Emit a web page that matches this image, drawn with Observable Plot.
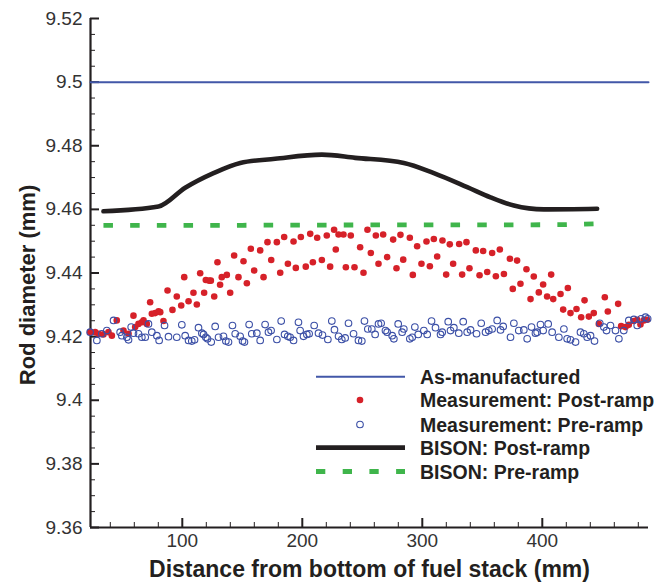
<!DOCTYPE html>
<html><head><meta charset="utf-8">
<script src="https://cdn.jsdelivr.net/npm/d3@7"></script>
<script src="https://cdn.jsdelivr.net/npm/@observablehq/plot@0.6"></script>
<style>
body{margin:0;background:#fff;font-family:"Liberation Sans",Arial,sans-serif;}
#wrap{position:relative;width:660px;height:582px;}
#legend{position:absolute;left:0;top:0;pointer-events:none;}
</style></head><body><div id="wrap"></div>
<script>
// ---- data ----
const xDomain = [23.5, 488.5];
const yDomain = [9.36, 9.52];
const xMajorTicks = [100, 200, 300, 400];
const xMinorTicks = [40, 60, 80, 120, 140, 160, 180, 220, 240, 260, 280, 320, 340, 360, 380, 420, 440, 460, 480];
const yMajorTicks = [9.36, 9.38, 9.40, 9.42, 9.44, 9.46, 9.48, 9.50, 9.52];
const yMinorTicks = [9.365, 9.37, 9.375, 9.385, 9.39, 9.395, 9.405, 9.41, 9.415, 9.425, 9.43, 9.435,
  9.445, 9.45, 9.455, 9.465, 9.47, 9.475, 9.485, 9.49, 9.495, 9.505, 9.51, 9.515];

const asManufactured = [[23.5, 9.5], [488.5, 9.5]];

const bisonPost = [
  [34.3, 9.4594], [80.2, 9.4609], [102.4, 9.4668], [126.0, 9.4714], [148.3, 9.4746],
  [177.4, 9.4759], [216.3, 9.4772], [244.1, 9.4762], [284.6, 9.4746], [309.6, 9.4714],
  [337.4, 9.4670], [356.8, 9.4638], [376.3, 9.4612], [401.3, 9.4600], [445.7, 9.4602]
];
const bisonPre = [
  [34.3, 9.4550], [150, 9.4550], [250, 9.4551], [350, 9.4551], [420, 9.4552], [445.5, 9.4555]
];

const postRamp = [
  [23.2,9.4214],[27.4,9.4214],[30.2,9.4209],[34.3,9.4207],[38.5,9.4214],[41.3,9.4203],[45.4,9.4251],
  [51.0,9.4219],[55.2,9.4209],[59.3,9.4266],[60.7,9.4230],[63.5,9.4240],[66.3,9.4245],[67.7,9.4251],
  [70.4,9.4240],[73.2,9.4308],[74.6,9.4272],[77.4,9.4274],[80.2,9.4280],[81.6,9.4277],[84.3,9.4249],
  [87.7,9.4345],[91.8,9.4284],[95.4,9.4326],[99.1,9.4298],[101.6,9.4387],[105.2,9.4311],[109.3,9.4338],
  [112.1,9.4301],[114.9,9.4399],[118.2,9.4338],[119.6,9.4378],[122.4,9.4376],[123.8,9.4376],[126.6,9.4326],
  [129.3,9.4434],[131.5,9.4363],[132.9,9.4387],[137.1,9.4394],[139.9,9.4338],[143.2,9.4455],[146.8,9.4387],
  [151.0,9.4437],[153.8,9.4368],[157.1,9.4476],[159.9,9.4408],[164.9,9.4471],[167.7,9.4387],[171.0,9.4497],
  [174.1,9.4441],[178.8,9.4497],[181.6,9.4401],[184.9,9.4513],[188.0,9.4429],[192.7,9.4499],[194.6,9.4416],
  [198.8,9.4513],[202.9,9.4420],[206.6,9.4523],[208.8,9.4434],[212.4,9.4511],[216.3,9.4441],[220.4,9.4518],
  [223.2,9.4420],[226.5,9.4536],[227.9,9.4474],[230.2,9.4521],[234.3,9.4521],[236.3,9.4418],[240.4,9.4518],
  [243.5,9.4418],[248.2,9.4481],[251.0,9.4401],[254.3,9.4536],[257.1,9.4463],[261.3,9.4518],[263.5,9.4429],
  [267.4,9.4521],[270.7,9.4450],[275.7,9.4505],[278.5,9.4415],[281.8,9.4520],[284.1,9.4442],[289.6,9.4511],
  [292.1,9.4394],[295.7,9.4484],[299.3,9.4429],[303.5,9.4499],[306.3,9.4421],[309.6,9.4507],[312.4,9.4452],
  [316.8,9.4502],[319.9,9.4395],[322.9,9.4490],[325.7,9.4429],[330.7,9.4491],[333.2,9.4395],[336.8,9.4497],
  [339.3,9.4415],[344.6,9.4471],[347.7,9.4393],[350.7,9.4469],[354.1,9.4403],[358.2,9.4463],[361.3,9.4390],
  [364.6,9.4474],[368.0,9.4397],[373.0,9.4445],[375.4,9.4350],[379.0,9.4439],[381.8,9.4366],[386.8,9.4412],
  [390.2,9.4318],[392.9,9.4389],[397.1,9.4339],[400.7,9.4364],[404.0,9.4326],[407.4,9.4395],[409.1,9.4318],
  [415.2,9.4334],[417.4,9.4285],[421.3,9.4353],[423.5,9.4274],[428.5,9.4287],[432.4,9.4261],[435.2,9.4314],
  [438.8,9.4263],[442.9,9.4274],[447.1,9.4240],[452.1,9.4324],[454.6,9.4279],[463.2,9.4303],[465.7,9.4233],
  [469.3,9.4230],[472.1,9.4237],[476.3,9.4249],[479.1,9.4253],[481.8,9.4238],[484.6,9.4251],[487.4,9.4253]
];

const preRamp = [
  [23.2,9.4214],[28.8,9.4188],[32.9,9.4209],[37.1,9.4219],[42.7,9.4251],[48.2,9.4214],[49.6,9.4203],
  [53.8,9.4198],[55.2,9.4190],[57.4,9.4230],[59.3,9.4211],[63.5,9.4209],[66.3,9.4198],[69.1,9.4198],
  [71.8,9.4240],[74.6,9.4214],[78.8,9.4203],[80.7,9.4188],[85.2,9.4235],[88.5,9.4200],[95.4,9.4198],
  [99.6,9.4237],[102.4,9.4203],[105.2,9.4188],[107.9,9.4186],[110.2,9.4190],[113.5,9.4228],[116.3,9.4211],
  [117.7,9.4207],[119.6,9.4198],[121.0,9.4193],[124.1,9.4183],[127.4,9.4232],[130.2,9.4198],[134.3,9.4201],
  [136.3,9.4186],[138.5,9.4183],[141.8,9.4235],[144.1,9.4209],[148.2,9.4201],[150.2,9.4186],[151.8,9.4183],
  [155.7,9.4238],[157.9,9.4209],[162.1,9.4211],[164.9,9.4188],[169.0,9.4238],[171.8,9.4214],[174.0,9.4219],
  [178.8,9.4191],[182.4,9.4249],[185.2,9.4207],[187.9,9.4201],[189.9,9.4198],[192.7,9.4188],[196.8,9.4245],
  [198.2,9.4219],[201.0,9.4201],[203.8,9.4207],[205.7,9.4209],[209.9,9.4235],[213.5,9.4211],[216.8,9.4205],
  [221.3,9.4191],[224.6,9.4249],[226.8,9.4222],[230.2,9.4201],[232.9,9.4191],[235.7,9.4196],[238.5,9.4242],
  [242.7,9.4209],[246.8,9.4188],[249.6,9.4186],[251.8,9.4249],[254.6,9.4224],[257.9,9.4224],[260.7,9.4207],
  [263.5,9.4240],[265.7,9.4242],[269.3,9.4219],[270.7,9.4214],[274.9,9.4203],[276.3,9.4193],[279.9,9.4240],
  [283.2,9.4214],[284.6,9.4224],[289.6,9.4193],[291.6,9.4198],[293.8,9.4230],[296.6,9.4207],[301.3,9.4219],
  [304.1,9.4207],[307.7,9.4249],[311.0,9.4228],[315.2,9.4207],[316.6,9.4214],[321.6,9.4247],[323.5,9.4219],
  [326.3,9.4228],[330.4,9.4211],[334.1,9.4247],[337.4,9.4214],[340.2,9.4221],[345.2,9.4209],[349.1,9.4242],
  [352.7,9.4214],[355.4,9.4219],[358.2,9.4224],[362.4,9.4251],[365.2,9.4221],[367.4,9.4232],[373.5,9.4198],
  [376.3,9.4242],[380.4,9.4219],[384.6,9.4221],[387.4,9.4193],[391.0,9.4230],[394.3,9.4211],[395.7,9.4214],
  [398.5,9.4238],[400.7,9.4219],[404.9,9.4240],[408.2,9.4214],[413.8,9.4198],[418.0,9.4224],[420.7,9.4193],
  [423.5,9.4190],[427.7,9.4183],[431.8,9.4214],[434.6,9.4209],[437.4,9.4198],[440.2,9.4203],[443.5,9.4186],
  [447.9,9.4242],[451.3,9.4230],[453.5,9.4219],[456.8,9.4235],[461.0,9.4219],[463.8,9.4193],[467.9,9.4219],
  [472.1,9.4251],[476.3,9.4254],[479.1,9.4235],[482.4,9.4256],[486.0,9.4261],[487.8,9.4256]
];

const legendLabels = ["As-manufactured", "Measurement: Post-ramp", "Measurement: Pre-ramp", "BISON: Post-ramp", "BISON: Pre-ramp"];

// ---- styles ----
const INK = "#231f20";
const BLUE_LINE = "#4257a8";
const BLUE_PT = "#3b4fa6";
const RED = "#d62129";
const GREEN = "#3fb54b";
const fmtY = d => String(+d.toFixed(2));

const chart = Plot.plot({
  width: 660, height: 582,
  marginLeft: 90, marginRight: 12, marginTop: 18, marginBottom: 55,
  x: {domain: xDomain},
  y: {domain: yDomain},
  style: {fontFamily: "'Liberation Sans', Arial, sans-serif", color: INK, background: "white", overflow: "visible"},
  marks: [
    // tick labels
    Plot.axisX({ticks: xMajorTicks, tickSize: 0, tickPadding: 6, fontSize: 19, fill: "#333", label: null}),
    Plot.axisY({ticks: yMajorTicks, tickSize: 0, tickPadding: 8, fontSize: 19, fill: "#333", tickFormat: fmtY, label: null}),
    // inward ticks
    Plot.axisX({ticks: xMajorTicks, tickSize: 9, dy: -9, strokeWidth: 2, stroke: INK, tickFormat: () => "", label: null}),
    Plot.axisX({ticks: xMinorTicks, tickSize: 5, dy: -5, strokeWidth: 1, stroke: INK, tickFormat: () => "", label: null}),
    Plot.axisY({ticks: yMajorTicks, tickSize: 9, dx: 9, strokeWidth: 2, stroke: INK, tickFormat: () => "", label: null}),
    Plot.axisY({ticks: yMinorTicks, tickSize: 5, dx: 5, strokeWidth: 1, stroke: INK, tickFormat: () => "", label: null}),
    // axis lines
    Plot.ruleX([xDomain[0]], {stroke: INK, strokeWidth: 2.2}),
    Plot.ruleY([yDomain[0]], {stroke: INK, strokeWidth: 2.2}),
    // data
    Plot.line(asManufactured, {x: d => d[0], y: d => d[1], stroke: BLUE_LINE, strokeWidth: 2}),
    Plot.line(bisonPost, {x: d => d[0], y: d => d[1], stroke: INK, strokeWidth: 4.6, curve: "monotone-x"}),
    Plot.line(bisonPre, {x: d => d[0], y: d => d[1], stroke: GREEN, strokeWidth: 4.8, strokeDasharray: "9.5,17.2", strokeLinecap: "butt"}),
    Plot.dot(postRamp, {x: d => d[0], y: d => d[1], r: 3.3, fill: RED, stroke: "none"}),
    Plot.dot(preRamp, {x: d => d[0], y: d => d[1], r: 3.3, fill: "none", stroke: BLUE_PT, strokeWidth: 1.1}),
    // axis titles
    Plot.text(["Distance from bottom of fuel stack (mm)"], {frameAnchor: "bottom", dy: 42, lineAnchor: "middle", fontSize: 23, fontWeight: "bold", fill: INK}),
    Plot.text(["Rod diameter (mm)"], {frameAnchor: "left", dx: -63, dy: 12, rotate: -90, lineAnchor: "middle", textAnchor: "middle", fontSize: 22, fontWeight: "bold", fill: INK})
  ]
});
document.getElementById("wrap").appendChild(chart);

// legend overlay (inside the plot area)
const lg = d3.select("#wrap").append("svg").attr("id", "legend").attr("width", 660).attr("height", 582);
const rows = [376.7, 400, 424.5, 447.7, 471.5];
const lx0 = 316, lx1 = 405, tx = 420;
lg.append("line").attr("x1", lx0).attr("x2", lx1).attr("y1", rows[0]).attr("y2", rows[0]).attr("stroke", BLUE_LINE).attr("stroke-width", 2);
lg.append("circle").attr("cx", 360).attr("cy", rows[1]).attr("r", 3.3).attr("fill", RED);
lg.append("circle").attr("cx", 360).attr("cy", rows[2]).attr("r", 3.3).attr("fill", "none").attr("stroke", BLUE_PT).attr("stroke-width", 1.1);
lg.append("line").attr("x1", lx0).attr("x2", lx1).attr("y1", rows[3]).attr("y2", rows[3]).attr("stroke", INK).attr("stroke-width", 4.8);
lg.append("line").attr("x1", lx0).attr("x2", lx1).attr("y1", rows[4]).attr("y2", rows[4]).attr("stroke", GREEN).attr("stroke-width", 4.8).attr("stroke-dasharray", "9.3,17.4");
legendLabels.forEach((t, i) => {
  lg.append("text").attr("x", tx).attr("y", rows[i]).attr("dy", "0.36em")
    .attr("font-family", "'Liberation Sans', Arial, sans-serif").attr("font-weight", "bold")
    .attr("font-size", 19.5).attr("fill", INK).text(t);
});
</script></body></html>
